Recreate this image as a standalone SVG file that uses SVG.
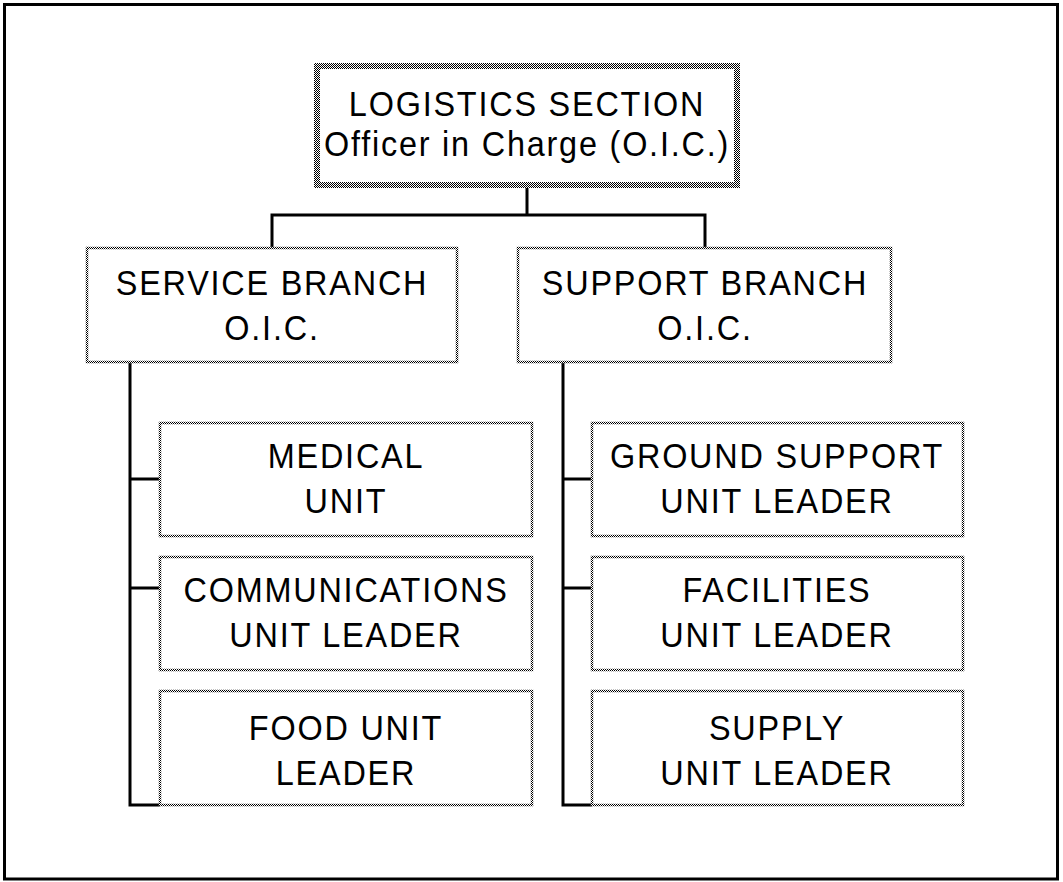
<svg xmlns="http://www.w3.org/2000/svg" width="1063" height="882" viewBox="0 0 1063 882">
<defs>
<pattern id="dither" width="2" height="2" patternUnits="userSpaceOnUse"><rect width="2" height="2" fill="#fff"/><rect width="1" height="1" fill="#000"/><rect x="1" y="1" width="1" height="1" fill="#000"/></pattern>
</defs>
<style>
.box{fill:#fff;stroke:url(#dither);stroke-width:2.5}
.top{fill:#fff;stroke:url(#dither);stroke-width:6}
.t{font-family:"Liberation Sans",Arial,sans-serif;font-size:36px;letter-spacing:2px;text-anchor:middle;fill:#000}
.c{fill:none;stroke:#000;stroke-width:3}
</style>
<rect x="4.5" y="4.5" width="1053" height="874.5" fill="#fff" stroke="#000" stroke-width="3"/>
<g id="connectors">
<path class="c" d="M527 188V215M272 248V215H705V248"/>
<path class="c" d="M130 362V805H160M130 479H160M130 588H160"/>
<path class="c" d="M563 363V805H592M563 479H592M563 588H592"/>
</g>
<g id="logistics">
<rect class="top" x="317" y="66" width="420" height="119"/>
<text class="t" transform="translate(527 0) scale(0.9 1)" y="116">LOGISTICS SECTION</text>
<text class="t" transform="translate(527 0) scale(0.9 1)" y="156">Officer in Charge (O.I.C.)</text>
</g>
<g id="service">
<rect class="box" x="87" y="248" width="370" height="114"/>
<text class="t" transform="translate(272 0) scale(0.9 1)" y="295">SERVICE BRANCH</text>
<text class="t" transform="translate(272 0) scale(0.9 1)" y="340">O.I.C.</text>
</g>
<g id="support">
<rect class="box" x="518" y="248" width="373" height="114"/>
<text class="t" transform="translate(705 0) scale(0.9 1)" y="295">SUPPORT BRANCH</text>
<text class="t" transform="translate(705 0) scale(0.9 1)" y="340">O.I.C.</text>
</g>
<g id="medical">
<rect class="box" x="160" y="423" width="372" height="113"/>
<text class="t" transform="translate(346 0) scale(0.9 1)" y="468">MEDICAL</text>
<text class="t" transform="translate(346 0) scale(0.9 1)" y="513">UNIT</text>
</g>
<g id="communications">
<rect class="box" x="160" y="557" width="372" height="113"/>
<text class="t" transform="translate(346 0) scale(0.9 1)" y="602">COMMUNICATIONS</text>
<text class="t" transform="translate(346 0) scale(0.9 1)" y="647">UNIT LEADER</text>
</g>
<g id="food">
<rect class="box" x="160" y="691" width="372" height="114"/>
<text class="t" transform="translate(346 0) scale(0.9 1)" y="740">FOOD UNIT</text>
<text class="t" transform="translate(346 0) scale(0.9 1)" y="785">LEADER</text>
</g>
<g id="ground">
<rect class="box" x="592" y="423" width="371" height="113"/>
<text class="t" transform="translate(777 0) scale(0.9 1)" y="468">GROUND SUPPORT</text>
<text class="t" transform="translate(777 0) scale(0.9 1)" y="513">UNIT LEADER</text>
</g>
<g id="facilities">
<rect class="box" x="592" y="557" width="371" height="113"/>
<text class="t" transform="translate(777 0) scale(0.9 1)" y="602">FACILITIES</text>
<text class="t" transform="translate(777 0) scale(0.9 1)" y="647">UNIT LEADER</text>
</g>
<g id="supply">
<rect class="box" x="592" y="691" width="371" height="114"/>
<text class="t" transform="translate(777 0) scale(0.9 1)" y="740">SUPPLY</text>
<text class="t" transform="translate(777 0) scale(0.9 1)" y="785">UNIT LEADER</text>
</g>
</svg>
